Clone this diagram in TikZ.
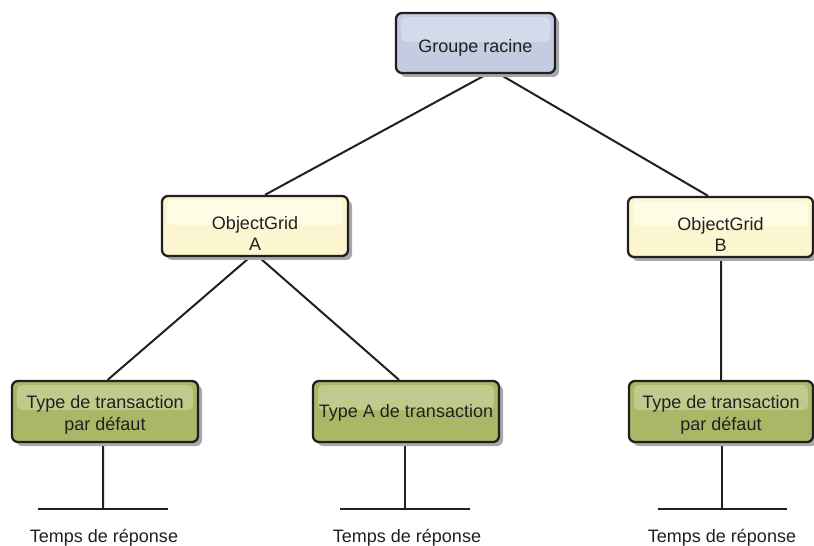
\documentclass[tikz,border=0pt]{standalone}
\usepackage{fontspec}
\setmainfont{Liberation Sans}
\usetikzlibrary{shadows,backgrounds}

\definecolor{edgec}{HTML}{231F20}
\definecolor{rootfill}{HTML}{C3CCE0}
\definecolor{roothl}{HTML}{D3DBEA}
\definecolor{ogfill}{HTML}{FBF6D0}
\definecolor{oghl}{HTML}{FFFCE6}
\definecolor{grfill}{HTML}{A8B867}
\definecolor{grhl}{HTML}{BFCB8C}
\definecolor{shadowc}{HTML}{A7A7AC}

\tikzset{
  box/.style={draw=edgec, line width=2.3bp, rounded corners=6bp,
    minimum height=60bp, inner sep=0pt,
    drop shadow={shadow xshift=4bp, shadow yshift=-4bp, fill=shadowc, opacity=1},
    path picture={\fill[#1, rounded corners=5bp]
      ([xshift=5bp,yshift=-4bp]path picture bounding box.north west) rectangle
      ([xshift=-5bp,yshift=-29bp]path picture bounding box.north east);}},
  rootbox/.style={box=roothl, fill=rootfill, minimum width=159bp},
  ogbox/.style={box=oghl, fill=ogfill, minimum width=186bp},
  grbox/.style={box=grhl, fill=grfill, minimum width=186bp, minimum height=61bp},
  boxtext/.style={align=center, inner sep=0pt,
    font=\fontsize{18bp}{21.5bp}\selectfont, text=edgec},
  link/.style={draw=edgec, line width=2bp},
  caption/.style={anchor=base, font=\fontsize{18bp}{21bp}\selectfont, text=edgec, inner sep=0pt}
}

\begin{document}
\begin{tikzpicture}[x=1bp, y=-1bp]
\useasboundingbox (0,0) rectangle (814,546);

\node[rootbox] (root) at (475.5,43) {};
\node[ogbox] (oga) at (255,226) {};
\node[ogbox, minimum width=185bp] (ogb) at (720.5,227) {};
\node[grbox] (g1) at (105,411.5) {};
\node[grbox] (g2) at (406,411.5) {};
\node[grbox, minimum width=184bp] (g3) at (721,411.5) {};

\node[boxtext] (roott) at ([yshift=-4.5bp]root.center) {Groupe racine};
\node[boxtext] (ogat) at ([yshift=-7.5bp]oga.center) {ObjectGrid\\A};
\node[boxtext] (ogbt) at ([yshift=-7.5bp]ogb.center) {ObjectGrid\\B};
\node[boxtext] (g1t) at ([yshift=-3.5bp]g1.center) {Type de transaction\\par défaut};
\node[boxtext] (g2t) at ([yshift=-1bp]g2.center) {Type A de transaction};
\node[boxtext] (g3t) at ([yshift=-3.5bp]g3.center) {Type de transaction\\par défaut};

\coordinate (t1) at (103,509);
\coordinate (t2) at (405,509);
\coordinate (t3) at (722,509);

\begin{scope}[on background layer]
  \draw[link] ([xshift=11.5bp]root.south) -- ([xshift=10bp]oga.north);
  \draw[link] ([xshift=24bp]root.south) -- ([xshift=-12.5bp]ogb.north);
  \draw[link] ([xshift=-5bp]oga.south) -- ([xshift=2.7bp]g1.north);
  \draw[link] ([xshift=4bp]oga.south) -- ([xshift=-7bp]g2.north);
  \draw[link] ([xshift=0.5bp]ogb.south) -- (g3.north);
  \draw[link] ([xshift=-2bp]g1.south) -- (t1);
  \draw[link] ([xshift=-1bp]g2.south) -- (t2);
  \draw[link] ([xshift=1bp]g3.south) -- (t3);
\end{scope}

\draw[link] ([xshift=-64.5bp]t1) -- ([xshift=64.5bp]t1);
\draw[link] ([xshift=-65bp]t2) -- ([xshift=65bp]t2);
\draw[link] ([xshift=-64.5bp]t3) -- ([xshift=64.5bp]t3);

\node[caption] (c1) at (104,542) {Temps de réponse};
\node[caption] (c2) at (407,542) {Temps de réponse};
\node[caption] (c3) at (722,542) {Temps de réponse};
\end{tikzpicture}
\end{document}
